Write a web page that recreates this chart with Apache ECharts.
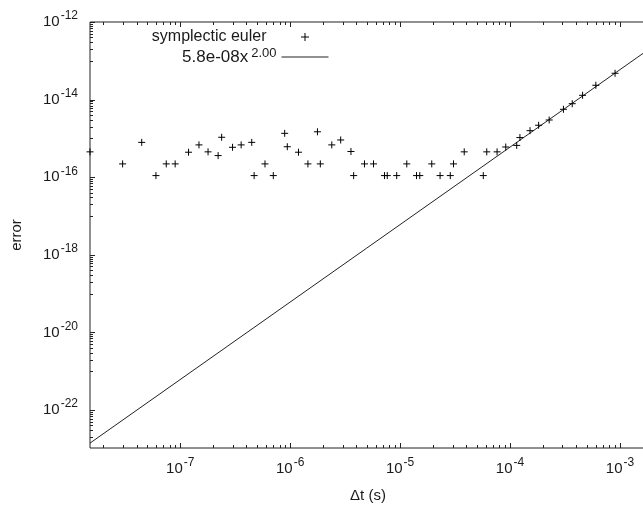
<!DOCTYPE html>
<html>
<head>
<meta charset="utf-8">
<script src="https://cdn.jsdelivr.net/npm/echarts@6/dist/echarts.min.js"></script>
<style>
html, body { margin: 0; padding: 0; background: #fff; }
#chart { width: 643px; height: 506px; }
</style>
</head>
<body>
<div id="chart"></div>
<script>
// symplectic euler: error against time step
var dtValues = [
    1.51e-8, 2.99e-8, 4.46e-8, 6.01e-8, 7.46e-8, 8.99e-8, 1.19e-7, 1.48e-7, 1.79e-7, 2.21e-7,
    2.38e-7, 2.99e-7, 3.58e-7, 4.47e-7, 4.70e-7, 5.90e-7, 7.02e-7, 8.91e-7, 9.41e-7, 1.19e-6,
    1.45e-6, 1.77e-6, 1.88e-6, 2.39e-6, 2.88e-6, 3.57e-6, 3.78e-6, 4.74e-6, 5.73e-6, 7.21e-6,
    7.64e-6, 9.31e-6, 1.15e-5, 1.41e-5, 1.51e-5, 1.94e-5, 2.31e-5, 2.86e-5, 3.06e-5, 3.83e-5,
    5.71e-5, 6.14e-5, 7.62e-5, 9.14e-5, 1.15e-4, 1.23e-4, 1.52e-4, 1.82e-4, 2.27e-4, 3.06e-4,
    3.68e-4, 4.57e-4, 6.03e-4, 9.02e-4
];
var errValues = [
    4.5e-16, 2.2e-16, 7.9e-16, 1.1e-16, 2.2e-16, 2.2e-16, 4.4e-16, 6.8e-16, 4.5e-16, 3.6e-16,
    1.07e-15, 5.9e-16, 6.8e-16, 7.9e-16, 1.1e-16, 2.2e-16, 1.1e-16, 1.35e-15, 6.1e-16, 4.4e-16,
    2.2e-16, 1.48e-15, 2.2e-16, 6.8e-16, 9.1e-16, 4.6e-16, 1.1e-16, 2.2e-16, 2.2e-16, 1.1e-16,
    1.1e-16, 1.1e-16, 2.2e-16, 1.1e-16, 1.1e-16, 2.2e-16, 1.1e-16, 1.1e-16, 2.2e-16, 4.5e-16,
    1.1e-16, 4.5e-16, 4.5e-16, 6.0e-16, 6.6e-16, 1.05e-15, 1.58e-15, 2.18e-15, 2.98e-15, 5.62e-15,
    7.84e-15, 1.29e-14, 2.34e-14, 4.77e-14
];
// fitted line 5.8e-08 x^2.00, ends read at the plot edges
var fitDt = [1.51e-8, 1.62e-3];
var fitErr = [1.4e-23, 1.55e-13];

// decade labels (exponents)
var xTickExps = [-7, -6, -5, -4, -3];
var yTickExps = [-22, -20, -18, -16, -14, -12];

var X_MIN = Math.log10(1.51e-8), X_MAX = X_MIN + 556 / 109.93;
var Y_MIN = -22.98, Y_MAX = -12;
var FONT = '"Liberation Sans", Arial, sans-serif';
var INK = '#1a1a1a';
var PLUS = 'path://M0,4L8,4M4,0L4,8';

var scatterData = dtValues.map(function (d, i) {
    return [Math.log10(d), Math.log10(errValues[i])];
});
var fitData = fitDt.map(function (d, i) {
    return [Math.log10(d), Math.log10(fitErr[i])];
});

// gnuplot style ticks: [value, 0 = x / 1 = y, length]
var tickMarks = [];
for (var e = -8; e <= -3; e++) {
    if (e >= X_MIN && e <= X_MAX) tickMarks.push([e, 0, 5]);
    for (var m = 2; m < 10; m++) {
        var v = e + Math.log10(m);
        if (v > X_MIN && v < X_MAX) tickMarks.push([v, 0, 3]);
    }
}
yTickExps.forEach(function (e) {
    tickMarks.push([e, 1, 5]);
    for (var m = 1; m < 10; m++) {
        var v = e - 1 + Math.log10(m);
        if (v > Y_MIN && v < Y_MAX) tickMarks.push([v, 1, 3]);
    }
});

function isExp(list, v) {
    for (var i = 0; i < list.length; i++) {
        if (Math.abs(list[i] - v) < 1e-6) return true;
    }
    return false;
}

var labelRich = {
    b: { fontFamily: FONT, fontSize: 15, color: INK, lineHeight: 24 },
    s: { fontFamily: FONT, fontSize: 12, color: INK, lineHeight: 12, verticalAlign: 'top', padding: [0, 0, 0, 1] }
};

var chart = echarts.init(document.getElementById('chart'));
var option = {
    animation: false,
    backgroundColor: '#fff',
    grid: {
        left: 90, right: -3, top: 22, bottom: 58,
        show: true, borderColor: '#222', borderWidth: 1,
        outerBoundsMode: 'none'
    },
    legend: {
        orient: 'vertical',
        align: 'right',
        right: 314,
        top: 27,
        padding: 0,
        itemGap: 0,
        itemWidth: 47,
        itemHeight: 8,
        selectedMode: false,
        itemStyle: { borderWidth: 1 },
        textStyle: {
            fontFamily: FONT, fontSize: 16, color: INK, lineHeight: 20,
            rich: {
                p: { fontFamily: FONT, fontSize: 16, color: INK, lineHeight: 20, padding: [0, 10, 0, 0] },
                b: { fontFamily: FONT, fontSize: 17, color: INK, lineHeight: 20 },
                sup: { fontFamily: FONT, fontSize: 13, color: INK, lineHeight: 9, verticalAlign: 'top', padding: [0, 0, 0, 3] }
            }
        },
        formatter: function (name) {
            if (name === 'symplectic euler') return '{p|symplectic euler}';
            return '{b|5.8e-08x}{sup|2.00}';
        },
        data: [
            { name: 'symplectic euler', icon: PLUS },
            { name: 'fit', itemStyle: { opacity: 0 }, lineStyle: { color: '#222', width: 1 } }
        ]
    },
    xAxis: {
        type: 'value',
        min: X_MIN,
        max: X_MAX,
        splitNumber: 5,
        name: 'Δt (s)',
        nameLocation: 'middle',
        nameGap: 40,
        nameTextStyle: { fontFamily: FONT, fontSize: 15, color: INK },
        axisLine: { show: false },
        axisTick: { show: false },
        splitLine: { show: false },
        axisLabel: {
            margin: 9,
            rich: labelRich,
            formatter: function (v) {
                if (!isExp(xTickExps, v)) return '';
                return '{b|10}{s|' + Math.round(v) + '}';
            }
        }
    },
    yAxis: {
        type: 'value',
        min: Y_MIN,
        max: Y_MAX,
        splitNumber: 5,
        name: 'error',
        nameLocation: 'middle',
        nameRotate: 90,
        nameGap: 66,
        nameTextStyle: { fontFamily: FONT, fontSize: 15, color: INK },
        axisLine: { show: false },
        axisTick: { show: false },
        splitLine: { show: false },
        axisLabel: {
            margin: 12,
            rich: labelRich,
            formatter: function (v) {
                if (!isExp(yTickExps, v)) return '';
                return '{b|10}{s|' + Math.round(v) + '}';
            }
        }
    },
    series: [
        {
            name: 'symplectic euler',
            type: 'scatter',
            symbol: PLUS,
            symbolSize: 7,
            data: scatterData,
            itemStyle: { color: '#000', borderColor: '#000', borderWidth: 1, opacity: 1 },
            z: 3
        },
        {
            name: 'fit',
            type: 'line',
            data: fitData,
            symbol: 'none',
            itemStyle: { color: '#222' },
            lineStyle: { color: '#222', width: 1 },
            z: 2
        },
        {
            type: 'custom',
            silent: true,
            data: tickMarks,
            z: 4,
            renderItem: function (params, api) {
                var val = api.value(0), kind = api.value(1), len = api.value(2);
                var st = { stroke: '#222', lineWidth: 1 };
                if (kind === 0) {
                    var b = api.coord([val, Y_MIN]);
                    var t = api.coord([val, Y_MAX]);
                    var x = Math.round(b[0]) + 0.5;
                    return {
                        type: 'group',
                        children: [
                            { type: 'line', shape: { x1: x, y1: b[1], x2: x, y2: b[1] - len }, style: st },
                            { type: 'line', shape: { x1: x, y1: t[1], x2: x, y2: t[1] + len }, style: st }
                        ]
                    };
                }
                var l = api.coord([X_MIN, val]);
                var y = Math.round(l[1]) + 0.5;
                return { type: 'line', shape: { x1: l[0], y1: y, x2: l[0] + len, y2: y }, style: st };
            }
        }
    ]
};
chart.setOption(option);
</script>
</body>
</html>
